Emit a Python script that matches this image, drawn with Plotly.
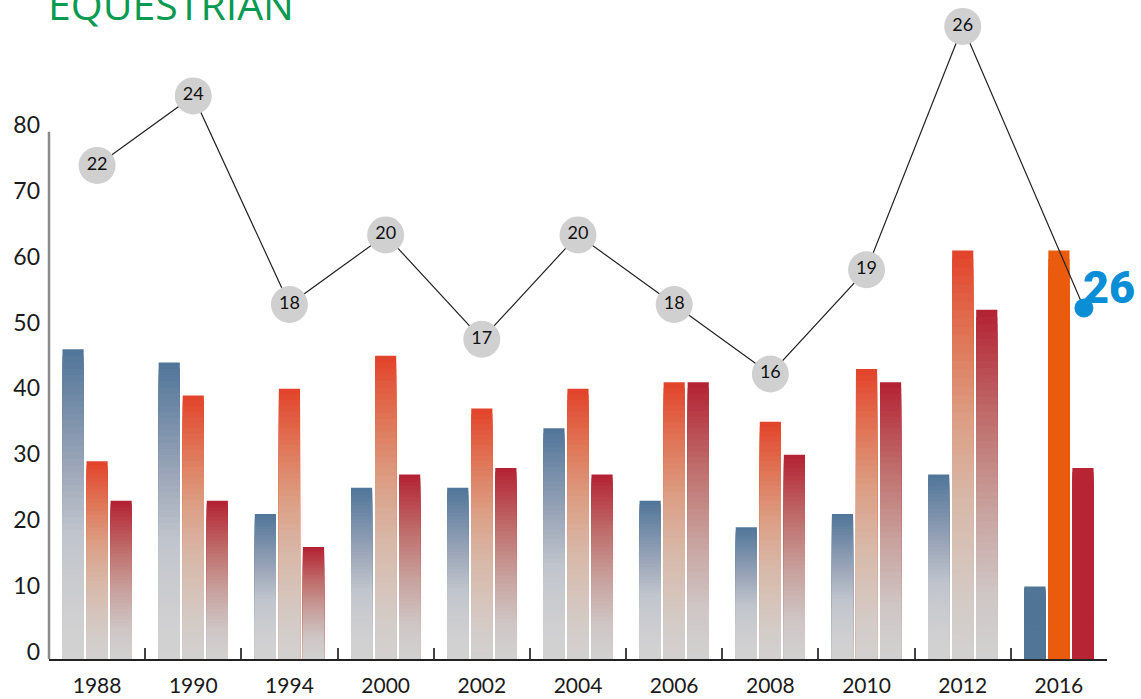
import plotly.graph_objects as go

# ---------------- data ----------------
years = ["1988", "1990", "1994", "2000", "2002", "2004", "2006", "2008", "2010", "2012", "2016"]
series_blue = [47, 45, 22, 26, 26, 35, 24, 20, 22, 28, 11]
series_orange = [30, 40, 41, 46, 38, 41, 42, 36, 44, 62, 62]
series_red = [24, 24, 17, 28, 29, 28, 42, 31, 42, 53, 29]
line_labels = [22, 24, 18, 20, 17, 20, 18, 16, 19, 26, 26]
line_positions = [22, 24, 18, 20, 17, 20, 18, 16, 19, 26, 17.9]
y_ticks = [0, 10, 20, 30, 40, 50, 60, 70, 80]
title_text = "EQUESTRIAN"

# ---------------- styles ----------------
FONT = "Lato"
gradients = {
    "blue": [(0.0, "#d2d2d2"), (0.15, "#d0d0d2"), (0.42, "#c0c4cc"), (0.64, "#9aa5b8"), (1.0, "#52769a")],
    "orange": [(0.0, "#d2d2d2"), (0.15, "#d4cbc6"), (0.4, "#d8b8a8"), (0.6, "#dc9e84"), (0.8, "#e07556"), (1.0, "#e2452c")],
    "red": [(0.0, "#d2d2d2"), (0.2, "#cfc6c5"), (0.45, "#c8a09c"), (0.7, "#bf6e6c"), (1.0, "#b42334")],
}
solid_last = {"blue": "#517596", "orange": "#ea5b0e", "red": "#b72535"}


def hex2rgb(h):
    h = h.lstrip("#")
    return tuple(int(h[i:i + 2], 16) for i in (0, 2, 4))


def interp(stops, f):
    for (f0, c0), (f1, c1) in zip(stops[:-1], stops[1:]):
        if f <= f1:
            t = 0 if f1 == f0 else (f - f0) / (f1 - f0)
            a, b = hex2rgb(c0), hex2rgb(c1)
            return "rgb(%d,%d,%d)" % tuple(round(a[i] + (b[i] - a[i]) * t) for i in range(3))
    return stops[-1][1]


fig = go.Figure()

N = 48
for name, vals in [("blue", series_blue), ("orange", series_orange), ("red", series_red)]:
    for k in range(N):
        frac = (N - k) / N  # height fraction of this overlay bar
        col = interp(gradients[name], frac)
        colors = [col] * (len(years) - 1) + [solid_last[name]]
        fig.add_trace(go.Bar(
            x=years, y=[v * frac for v in vals], base=0,
            offsetgroup=name, marker=dict(color=colors, line=dict(width=0)),
            showlegend=False, hoverinfo="skip",
        ))

# line on secondary axes
idx = list(range(len(years)))
line_x = idx[:-1] + [idx[-1] + 0.26]
fig.add_trace(go.Scatter(
    x=line_x, y=line_positions, xaxis="x2", yaxis="y2", mode="lines",
    line=dict(color="#222222", width=1.2), showlegend=False, hoverinfo="skip",
))
fig.add_trace(go.Scatter(
    x=line_x[:-1], y=line_positions[:-1], xaxis="x2", yaxis="y2", mode="markers+text",
    marker=dict(size=37, color="#d0d0d0"), text=[str(v) for v in line_labels[:-1]],
    textposition="middle center", textfont=dict(family=FONT, size=18, color="#111111"),
    showlegend=False, hoverinfo="skip", cliponaxis=False,
))
fig.add_trace(go.Scatter(
    x=[line_x[-1]], y=[line_positions[-1]], xaxis="x2", yaxis="y2", mode="markers",
    marker=dict(size=19, color="#0a8fd6"), showlegend=False, hoverinfo="skip", cliponaxis=False,
))
fig.add_annotation(
    x=line_x[-1], y=line_positions[-1], xref="x2", yref="y2", text=str(line_labels[-1]),
    showarrow=False, xanchor="left", yanchor="bottom", xshift=-3, yshift=-8,
    font=dict(family="Roboto", size=45, color="#0a8fd6", weight=900),
)

# title
fig.add_annotation(
    x=0, y=0.955, xref="paper", yref="paper", text=title_text, showarrow=False,
    xanchor="left", yanchor="bottom", xshift=-3, yshift=-4,
    font=dict(family="Open Sans", size=41, color="#0a9a52"),
)

# left axis line (only 0..80)
fig.add_shape(type="line", xref="paper", yref="y", x0=0, x1=0, y0=0, y1=y_ticks[-1],
              line=dict(color="#8a8a8a", width=2.5))

fig.update_layout(
    width=1141, height=699,
    margin=dict(l=49, r=34, t=0, b=40, autoexpand=False),
    plot_bgcolor="white", paper_bgcolor="white",
    barmode="group", bargap=0.25, bargroupgap=0.12,
    xaxis=dict(type="category", categoryorder="array", categoryarray=years, automargin=False,
               showline=True, linecolor="#222222", linewidth=1.5,
               ticks="inside", tickson="boundaries", ticklen=11, tickwidth=1.5, tickcolor="#444444",
               showgrid=False, zeroline=False,
               tickfont=dict(family=FONT, size=21, color="#1a1a1a"), ticklabelstandoff=7),
    yaxis=dict(range=[0, 100], tickvals=y_ticks, showgrid=False, zeroline=False, showline=False,
               automargin=False,
               ticks="", tickfont=dict(family=FONT, size=23, color="#1a1a1a"),
               ticklabelshift=-7, ticklabelstandoff=8),
    xaxis2=dict(overlaying="x", range=[-0.5, len(years) - 0.5], visible=False),
    yaxis2=dict(overlaying="y", range=[7.80, 26.76], visible=False),
)

fig.write_html(
    "out.html",
    config={"displayModeBar": False},
    post_script="document.body.style.margin='0';document.body.style.padding='0';"
                "document.body.style.overflow='hidden';",
)
